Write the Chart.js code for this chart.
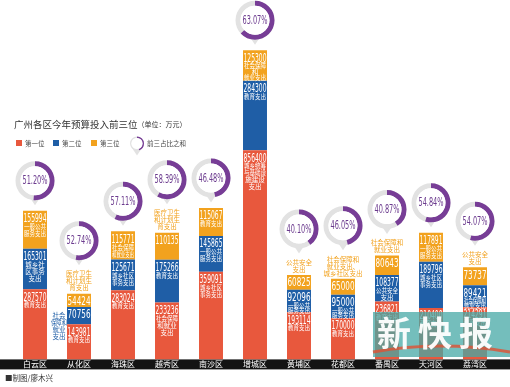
<!DOCTYPE html>
<html><head><meta charset="utf-8">
<script src="https://cdn.jsdelivr.net/npm/chart.js@4/dist/chart.umd.min.js"></script>
<style>html,body{margin:0;padding:0;background:#fff}canvas{display:block}</style>
</head><body>
<canvas id="c" width="510" height="387"></canvas>
<script>
const districts = ['白云区','从化区','海珠区','越秀区','南沙区','增城区','黄埔区','花都区','番禺区','天河区','荔湾区'];
const first  = [287570,143981,283024,233236,359091,856400,193114,170000,236821,210400,214291];
const second = [165301,70756,125671,175266,145865,284300,92096,95000,108377,189796,89421];
const third  = [155994,54424,115771,110135,115067,125300,60825,65000,80643,117891,73737];
const shares = [51.20,52.74,57.11,58.39,46.48,63.07,40.10,46.05,40.87,54.84,54.07];
const firstItems  = ['教育支出','教育支出','教育支出','社会保障\n和就业\n支出','城乡社区\n事务支出','城乡统筹\n与基础设\n施建设\n支出','教育支出','教育支出','教育支出','教育支出','教育支出'];
const secondItems = ['城乡社\n区事务\n支出','社会\n保障和\n就业\n支出','城乡社区\n事务支出','教育支出','一般公共\n服务支出','教育支出','一般公共\n服务支出','一般公共\n服务支出','公共安全\n支出','城乡社区\n事务支出','社会保障和\n就业支出'];
const thirdItems  = ['一般公共\n服务支出','医疗卫生\n和计划生\n育支出','社会保障\n和就业支出','医疗卫生\n和计划生\n育支出','教育支出','社会保障\n和\n就业支出','公共安全\n支出','社会保障和\n就业支出、\n城乡社区支出','社会保障和\n就业支出','一般公共\n服务支出','公共安全\n支出'];
const seriesNames = ['第一位','第二位','第三位'];
const shareName = '前三占比之和';
const titleText = '广州各区今年预算投入前三位';
const unitText = '（单位：万元）';
const creditText = '■制图/廖木兴';
const markText = '新快报';

const RED='#e8583d', BLUE='#1f5ea6', ORANGE='#f2a21e', PURPLE='#773d96', GREY='#e2e2e2';
const NUM = '"Liberation Sans Narrow","DejaVu Sans Condensed","Liberation Sans",sans-serif';
const CJK = '"Noto Sans CJK SC","Noto Sans",sans-serif';

function ring(ctx,cx,cy,pct,ro,ri,txt){
  ctx.save();
  ctx.fillStyle=GREY;
  ctx.beginPath(); ctx.moveTo(cx-6,cy+ro-4); ctx.lineTo(cx+6,cy+ro-4); ctx.lineTo(cx,cy+ro+5); ctx.closePath(); ctx.fill();
  ctx.beginPath(); ctx.arc(cx,cy,ro,0,Math.PI*2); ctx.arc(cx,cy,ri,0,Math.PI*2,true); ctx.fill();
  ctx.strokeStyle=PURPLE; ctx.lineWidth=ro-ri;
  ctx.beginPath(); ctx.arc(cx,cy,(ro+ri)/2,-Math.PI/2,-Math.PI/2+Math.PI*2*pct/100); ctx.stroke();
  ctx.fillStyle='#fff'; ctx.beginPath(); ctx.arc(cx,cy,ri,0,Math.PI*2); ctx.fill();
  if(txt){
    ctx.fillStyle='#6b3a8e'; ctx.font='12px '+NUM; ctx.textAlign='center'; ctx.textBaseline='middle';
    ctx.fillText(txt,cx,cy+0.5,ri*2-4);
  }
  ctx.restore();
}

const decor = {
  id:'decor',
  beforeDraw(chart){
    const {ctx, scales:{x}} = chart;
    ctx.save();
    ctx.fillStyle='#fff'; ctx.fillRect(0,0,chart.width,chart.height);
    ctx.fillStyle='#141414'; ctx.fillRect(0,x.top,chart.width,10);
    ctx.restore();
  },
  afterDatasetsDraw(chart){
    const ctx=chart.ctx;
    const vals=[first,second,third], items=[firstItems,secondItems,thirdItems];
    const metas=[0,1,2].map(i=>chart.getDatasetMeta(i));
    ctx.save();
    ctx.textAlign='center'; ctx.textBaseline='top';
    districts.forEach((d,j)=>{
      let ringBase=null;
      for(let i=0;i<3;i++){
        const b=metas[i].data[j];
        const top=b.y, h=b.base-b.y, w=b.width;
        const lines=items[i][j].split('\n');
        ctx.fillStyle='#fff'; ctx.font='13px '+NUM;
        ctx.fillText(String(vals[i][j]),b.x,top+1.5,w-1);
        ctx.font='6.5px '+CJK;
        const fits = h >= 8 + lines.length*6.5;
        if(fits){
          const step=Math.min(7,(h-13)/lines.length);
          lines.forEach((l,k)=>ctx.fillText(l,b.x,top+12.5+k*step,w-2));
        } else if(i===2){
          ctx.fillStyle=ORANGE;
          const t0=top-2-lines.length*7;
          lines.forEach((l,k)=>ctx.fillText(l,b.x,t0+k*7,40));
          ringBase=t0;
        } else {
          ctx.fillStyle=BLUE;
          const cx=b.x-w/2-8;
          lines.forEach((l,k)=>ctx.fillText(l,cx,top+5+k*7,16));
        }
        if(i===2 && ringBase===null) ringBase=top;
      }
      const cx=metas[2].data[j].x;
      ring(ctx,cx,ringBase-30,shares[j],19.5,14.5,shares[j].toFixed(2)+'%');
    });
    ctx.restore();
  },
  afterDraw(chart){
    const ctx=chart.ctx;
    ctx.save();
    ctx.textBaseline='middle'; ctx.textAlign='left';
    ctx.fillStyle='#333'; ctx.font='9.5px '+CJK;
    ctx.fillText(titleText,14,124);
    const tw=ctx.measureText(titleText).width;
    ctx.font='7px '+CJK; ctx.fillText(unitText,14+tw,124.5);
    const lx=[16,53,91];
    chart.data.datasets.forEach((ds,i)=>{
      ctx.fillStyle=ds.backgroundColor; ctx.fillRect(lx[i],140,6,6);
      ctx.fillStyle='#444'; ctx.font='6.5px '+CJK; ctx.fillText(ds.label,lx[i]+9,143.5);
    });
    ring(ctx,137,143.5,45,7,5.5,null);
    ctx.fillStyle='#444'; ctx.font='6.5px '+CJK; ctx.fillText(shareName,147,143.5);
    ctx.fillStyle='#333'; ctx.font='7.5px '+CJK; ctx.fillText(creditText,5,378.5);
    // watermark
    ctx.fillStyle='rgba(70,168,165,0.75)'; ctx.fillRect(373,312,137,45);
    ctx.strokeStyle='rgba(225,80,50,0.8)'; ctx.lineWidth=3;
    ctx.beginPath(); ctx.moveTo(373,352); ctx.quadraticCurveTo(440,340,510,352); ctx.stroke();
    ctx.fillStyle='rgba(255,255,255,0.95)'; ctx.font='bold 34px '+CJK; ctx.textAlign='center';
    [...markText].forEach((ch,k)=>ctx.fillText(ch,394+k*41,333));
    ctx.restore();
  }
};

new Chart(document.getElementById('c'),{
  type:'bar',
  data:{labels:districts,datasets:[
    {label:seriesNames[0],data:first,backgroundColor:RED},
    {label:seriesNames[1],data:second,backgroundColor:BLUE},
    {label:seriesNames[2],data:third,backgroundColor:ORANGE}
  ]},
  options:{
    responsive:false, animation:false, devicePixelRatio:1,
    datasets:{bar:{categoryPercentage:1,barPercentage:0.545,borderWidth:0}},
    layout:{padding:{top:48,left:13,right:13,bottom:18}},
    plugins:{legend:{display:false},tooltip:{enabled:false}},
    scales:{
      x:{stacked:true,grid:{display:false,drawTicks:false},border:{display:false},
         ticks:{color:'#fff',font:{size:8,family:CJK},padding:0,maxRotation:0,autoSkip:false}},
      y:{stacked:true,display:false,min:0,max:1275000}
    }
  },
  plugins:[decor]
});
</script>
</body></html>
